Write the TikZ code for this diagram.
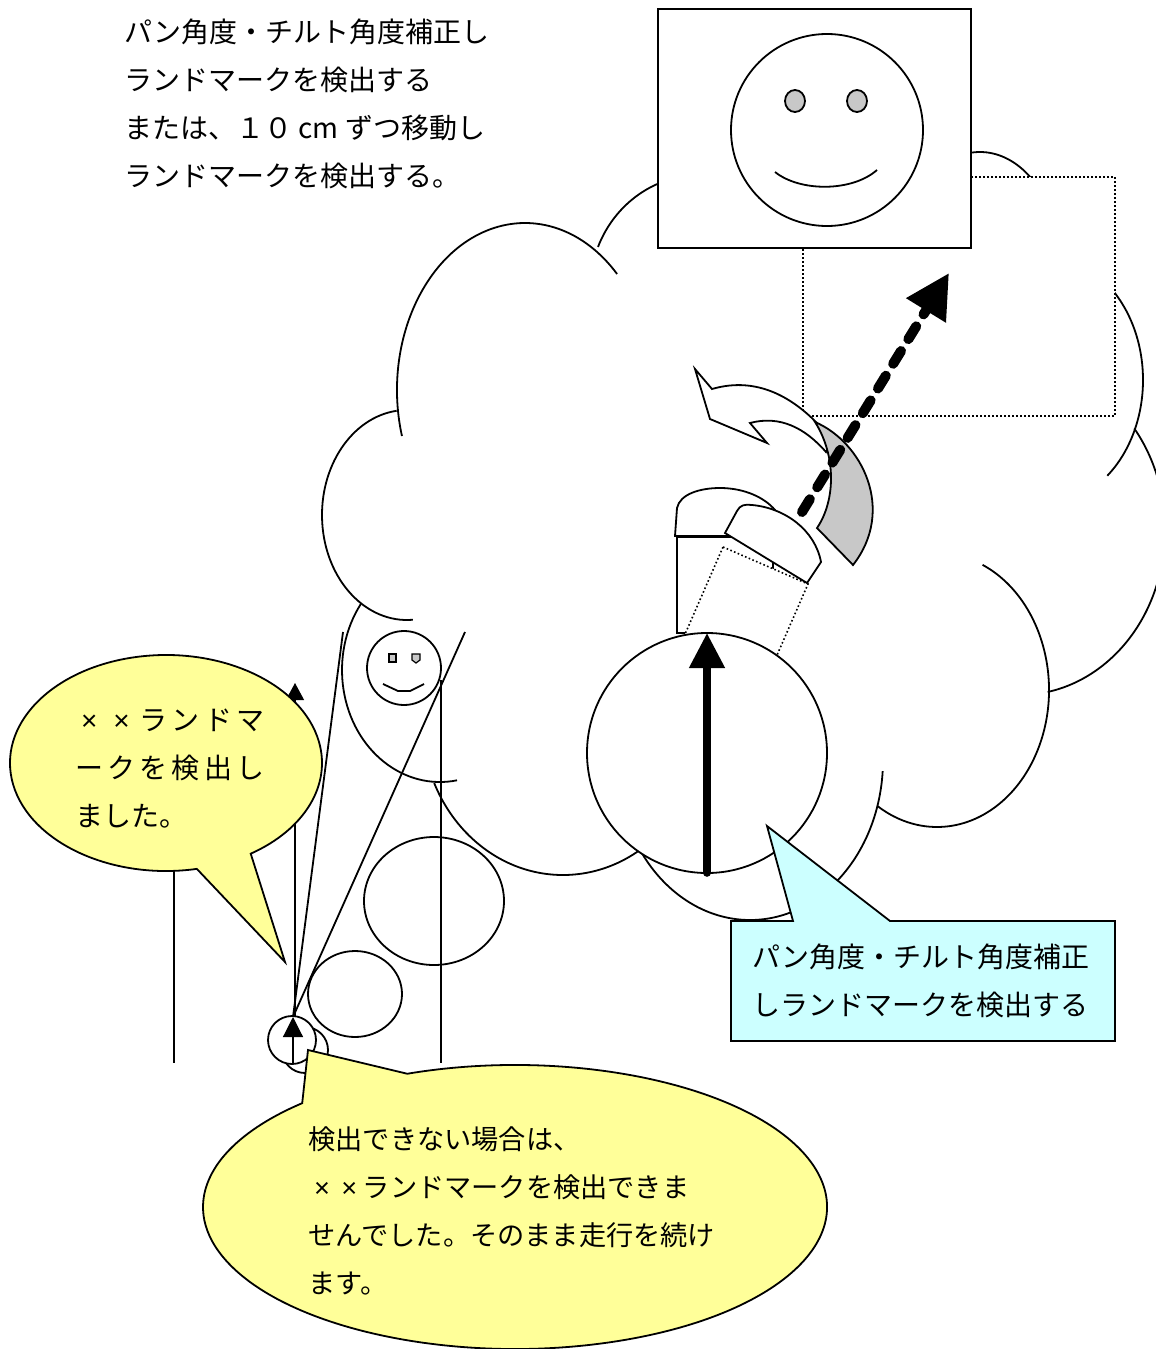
\documentclass[tikz,border=0pt]{standalone}
\usepackage{fontspec}
\setmainfont{Noto Sans CJK JP}
\newfontfamily\latinfont{Liberation Sans}
\usepackage{tikz}
\usetikzlibrary{arrows.meta}

\definecolor{calloutyellow}{HTML}{FFFF99}
\definecolor{calloutcyan}{HTML}{CCFFFF}
\definecolor{shadegray}{HTML}{C8C8C8}

% one bump of the cloud outline: centre x, centre y, radii, start/end angle
\newcommand{\cloudlobe}[6]{%
  \draw[outline] ([shift={(#5:#3 and #4)}]#1,#2)
    arc[start angle=#5, end angle=#6, x radius=#3, y radius=#4];}
% cross mark in a full-width cell
\newcommand{\batsu}{\makebox[1em]{\latinfont ×}}

\begin{document}
\begin{tikzpicture}[x=0.5pt, y=-0.5pt,
    outline/.style={line width=0.9pt},
    hairline/.style={line width=0.6pt},
    dotline/.style={line width=0.8pt, dash pattern=on 0.8pt off 1.2pt},
    jtext/.style={font=\fontsize{14pt}{24pt}\selectfont, align=left,
                  anchor=west, inner sep=0pt},
    yellowbox/.style={outline, fill=calloutyellow},
    cyanbox/.style={outline, fill=calloutcyan}]

  \useasboundingbox (0,0) rectangle (1156,1349);

  % cloud
  \cloudlobe{525}{390}{128}{167}{164}{316}
  \cloudlobe{700}{290}{110}{115}{202}{300}
  \cloudlobe{980}{265}{80}{113}{240}{314}
  \cloudlobe{1043}{380}{100}{125}{-60}{50}
  \cloudlobe{1020}{530}{145}{165}{-38}{79}
  \cloudlobe{937}{690}{112}{137}{-66}{122}
  \cloudlobe{750}{760}{133}{160}{4}{150}
  \cloudlobe{563}{720}{141}{155}{40}{156}
  \cloudlobe{440}{670}{98}{112}{80}{216}
  \cloudlobe{407}{515}{85}{105}{86}{263}

  % field of view and camera image
  \draw[dotline, fill=white] (803,177) rectangle (1115,416);
  \draw[outline, fill=white] (658,9) rectangle (971,248);
  \draw[outline] (827,130) circle[radius=96];
  \draw[outline, fill=shadegray] (795,101) ellipse[x radius=10, y radius=11];
  \draw[outline, fill=shadegray] (857,101) ellipse[x radius=10, y radius=11];
  \draw[outline] (775,172) .. controls (800,192) and (852,192) .. (877,170);

  % landmark
  \draw[outline] (404,668) circle[radius=37];
  \draw[hairline, fill=shadegray] (389,654) rectangle (396,662);
  \draw[hairline, fill=shadegray] (412,654) -- (420,654) -- (420,660) -- (416,663) -- (412,660) -- cycle;
  \draw[outline] (383,684) -- (398,691) -- (410,691) -- (424,684);

  % small robot and its view
  \coordinate (probe) at (293,1017);
  \coordinate (probe base) at (293,1063);
  \coordinate (left ray) at (343,632);
  \coordinate (right ray) at (465,632);
  \coordinate (lane top) at (295,683);
  \coordinate (lane base) at (295,1063);
  \draw[outline] (probe) -- (left ray);
  \draw[outline] (probe) -- (right ray);
  \draw[hairline] (174,700) -- (174,1063);
  \draw[hairline] (441,680) -- (441,1063);
  \draw[hairline, -{Triangle[length=8.5pt, width=9pt]}] (lane base) -- (lane top);
  \draw[outline] (434,901) ellipse[x radius=70, y radius=64];
  \draw[outline] (355,994) ellipse[x radius=47, y radius=43];
  \draw[outline] (305,1050) circle[radius=23];
  \draw[outline, fill=white] (292,1040) circle[radius=24];
  \draw[hairline, -{Triangle[length=10pt, width=10pt]}] (probe base) -- (probe);

  % robot with the camera turned
  \draw[outline, fill=white] (677,537) rectangle (773,633);
  \draw[outline, fill=white] (675,536) -- (677,508) .. controls (680,494) and (700,488) .. (720,488)
    .. controls (745,488) and (765,498) .. (775,510) -- (775,536) -- cycle;
  \draw[dotline, fill=white] (723,547) -- (808,584) -- (764,685) -- (679,648) -- cycle;
  \draw[outline, fill=white] (725,533) -- (737,511) .. controls (740,505) and (745,504) .. (752,505)
    .. controls (785,508) and (815,530) .. (821,562) -- (807,583) -- cycle;
  \draw[outline, fill=white] (707,753) circle[radius=120];
  \coordinate (robot) at (707,873);
  \coordinate (heading) at (707,633);
  \draw[line width=3.8pt, line cap=round, -{Triangle[length=17.5pt, width=17pt]}] (robot) -- (heading);

  % pan turn and tilt
  \draw[outline, fill=white] (695,369) -- (712,389) .. controls (760,375) and (800,400) .. (832,440)
    -- (826,452) .. controls (805,428) and (780,415) .. (750,423) -- (767,443) -- (710,419) -- cycle;
  \draw[outline, fill=shadegray] (815,422) .. controls (862,442) and (896,510) .. (853,565)
    -- (817,528) .. controls (836,500) and (836,455) .. (815,422) -- cycle;
  \coordinate (camera) at (802,512);
  \coordinate (target) at (949,273);
  \draw[line width=5pt, line cap=round, dash pattern=on 7.5pt off 7pt,
        -{Triangle[length=22pt, width=22pt]}] (camera) -- (target);

  % notes
  \node[jtext] (plan) at (124,104)
    {パン角度・チルト角度補正し\\ランドマークを検出する\\または、１０ cm ずつ移動し\\ランドマークを検出する。};

  \draw[yellowbox] ([shift={(78.6:156 and 108)}]166,763)
    arc[start angle=78.6, end angle=417.1, x radius=156, y radius=108]
    -- (285,962) -- cycle;
  \node[jtext] (found) at (75,769)
    {\makebox[93pt][s]{\batsu\ \batsu\ ラ ン ド マ}\\
     \makebox[93pt][s]{ー ク を 検 出 し}\\ました。};

  \draw[yellowbox] ([shift={(249.8:312 and 142)}]515,1207)
    arc[start angle=249.8, end angle=587, x radius=312, y radius=142]
    -- (308,1050) -- cycle;
  \node[jtext, font=\fontsize{13.6pt}{24pt}\selectfont] (lost) at (308,1211)
    {検出できない場合は、\\\batsu\batsu ランドマークを検出できま\\せんでした。そのまま走行を続け\\ます。};

  \draw[cyanbox] (731,921) -- (793,921) -- (767,826) -- (890,921) -- (1115,921)
    -- (1115,1041) -- (731,1041) -- cycle;
  \node[jtext] (correct) at (752,981) {パン角度・チルト角度補正\\しランドマークを検出する};

\end{tikzpicture}
\end{document}
